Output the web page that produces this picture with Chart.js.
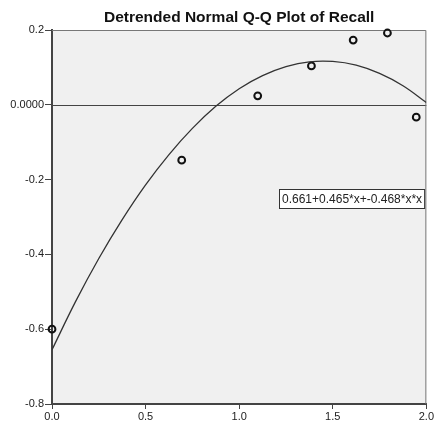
<!DOCTYPE html>
<html><head><meta charset="utf-8">
<script src="https://cdn.jsdelivr.net/npm/chart.js@4/dist/chart.umd.min.js"></script>
<style>html,body{margin:0;padding:0;background:#fff}#w{width:435px;height:425px}</style>
</head><body><div id="w"><canvas id="c"></canvas></div>
<script>
const titleText = "Detrended Normal Q-Q Plot of Recall";
const pointX = [0.0, 0.693, 1.099, 1.386, 1.609, 1.792, 1.946];
const pointY = [-0.600, -0.148, 0.024, 0.104, 0.173, 0.192, -0.033];
const curveX = [0, 0.125, 0.25, 0.375, 0.5, 0.625, 0.75, 0.875, 1, 1.125, 1.25, 1.375, 1.5, 1.625, 1.75, 1.875, 2];
const curveY = [-0.655, -0.527, -0.411, -0.307, -0.214, -0.133, -0.063, -0.004, 0.043, 0.078, 0.102, 0.115, 0.116, 0.106, 0.084, 0.051, 0.006];
const fitLabel = "0.661+0.465*x+-0.468*x*x";
const yTicks = [0.2, 0, -0.2, -0.4, -0.6, -0.8];
const xTicks = [0.0, 0.5, 1.0, 1.5, 2.0];
const FONT = 'Arial, "Liberation Sans", sans-serif';

const bgPlugin = {
  id: 'bg',
  beforeDraw(chart) {
    const {ctx, chartArea: a} = chart;
    ctx.save();
    ctx.fillStyle = '#f0f0f0';
    ctx.fillRect(a.left, a.top, a.right - a.left, a.bottom - a.top);
    ctx.restore();
  },
  beforeDatasetsDraw(chart) {
    const {ctx, chartArea: a, scales} = chart;
    const y0 = Math.round(scales.y.getPixelForValue(0)) + 0.5;
    ctx.save();
    ctx.strokeStyle = '#444';
    ctx.lineWidth = 1;
    ctx.beginPath(); ctx.moveTo(a.left, y0); ctx.lineTo(a.right, y0); ctx.stroke();
    ctx.strokeStyle = '#777';
    ctx.beginPath();
    ctx.moveTo(a.left, a.top + 0.5); ctx.lineTo(a.right - 0.5, a.top + 0.5); ctx.lineTo(a.right - 0.5, a.bottom);
    ctx.stroke();
    ctx.restore();
  },
  afterDraw(chart) {
    const {ctx} = chart;
    ctx.save();
    ctx.font = '12px ' + FONT;
    const w = ctx.measureText(fitLabel).width;
    const bx = 279.5, by = 189.5, bw = w + 5, bh = 19;
    ctx.fillStyle = '#fff';
    ctx.fillRect(bx, by, bw, bh);
    ctx.strokeStyle = '#333';
    ctx.lineWidth = 1;
    ctx.strokeRect(bx, by, bw, bh);
    ctx.fillStyle = '#222';
    ctx.textBaseline = 'middle';
    ctx.fillText(fitLabel, bx + 2.5, by + bh / 2 + 0.5);
    ctx.restore();
  }
};

new Chart(document.getElementById('c'), {
  type: 'scatter',
  data: {
    datasets: [
      {
        type: 'line',
        data: curveX.map((x, i) => ({x, y: curveY[i]})),
        borderColor: '#333', borderWidth: 1.3, pointRadius: 0, tension: 0.4, fill: false
      },
      {
        data: pointX.map((x, i) => ({x, y: pointY[i]})),
        pointRadius: 3.4, borderWidth: 2, pointBorderColor: '#111',
        pointBackgroundColor: 'rgba(0,0,0,0)', clip: false
      }
    ]
  },
  plugins: [bgPlugin],
  options: {
    responsive: true, maintainAspectRatio: false, animation: false,
    layout: {padding: {left: 0, right: 8, top: 0, bottom: 0}},
    plugins: {
      legend: {display: false}, tooltip: {enabled: false},
      title: {display: true, text: titleText, color: '#111', fullSize: false,
        font: {family: FONT, size: 15.5, weight: 'bold'},
        padding: {top: 8, bottom: 3.4}}
    },
    scales: {
      x: {
        type: 'linear', min: 0, max: 2,
        afterBuildTicks: s => { s.ticks = xTicks.map(v => ({value: v})); },
        afterFit: s => { s.height = 21; },
        ticks: {color: '#222', font: {family: FONT, size: 11}, padding: 1,
          callback: v => Number(v).toFixed(1), maxRotation: 0},
        grid: {drawOnChartArea: false, drawTicks: true, tickLength: 5, color: '#444', lineWidth: 1},
        border: {color: '#444', width: 2}
      },
      y: {
        min: -0.8, max: 0.2,
        afterBuildTicks: s => { s.ticks = yTicks.map(v => ({value: v})); },
        afterFit: s => { s.width = 52; },
        ticks: {color: '#222', font: {family: FONT, size: 11}, padding: 1,
          callback: v => Math.abs(v) < 1e-9 ? '0.0000' : Number(v).toFixed(1)},
        grid: {drawOnChartArea: false, drawTicks: true, tickLength: 7, color: '#444', lineWidth: 1},
        border: {color: '#444', width: 2}
      }
    }
  }
});
</script>
</body></html>
